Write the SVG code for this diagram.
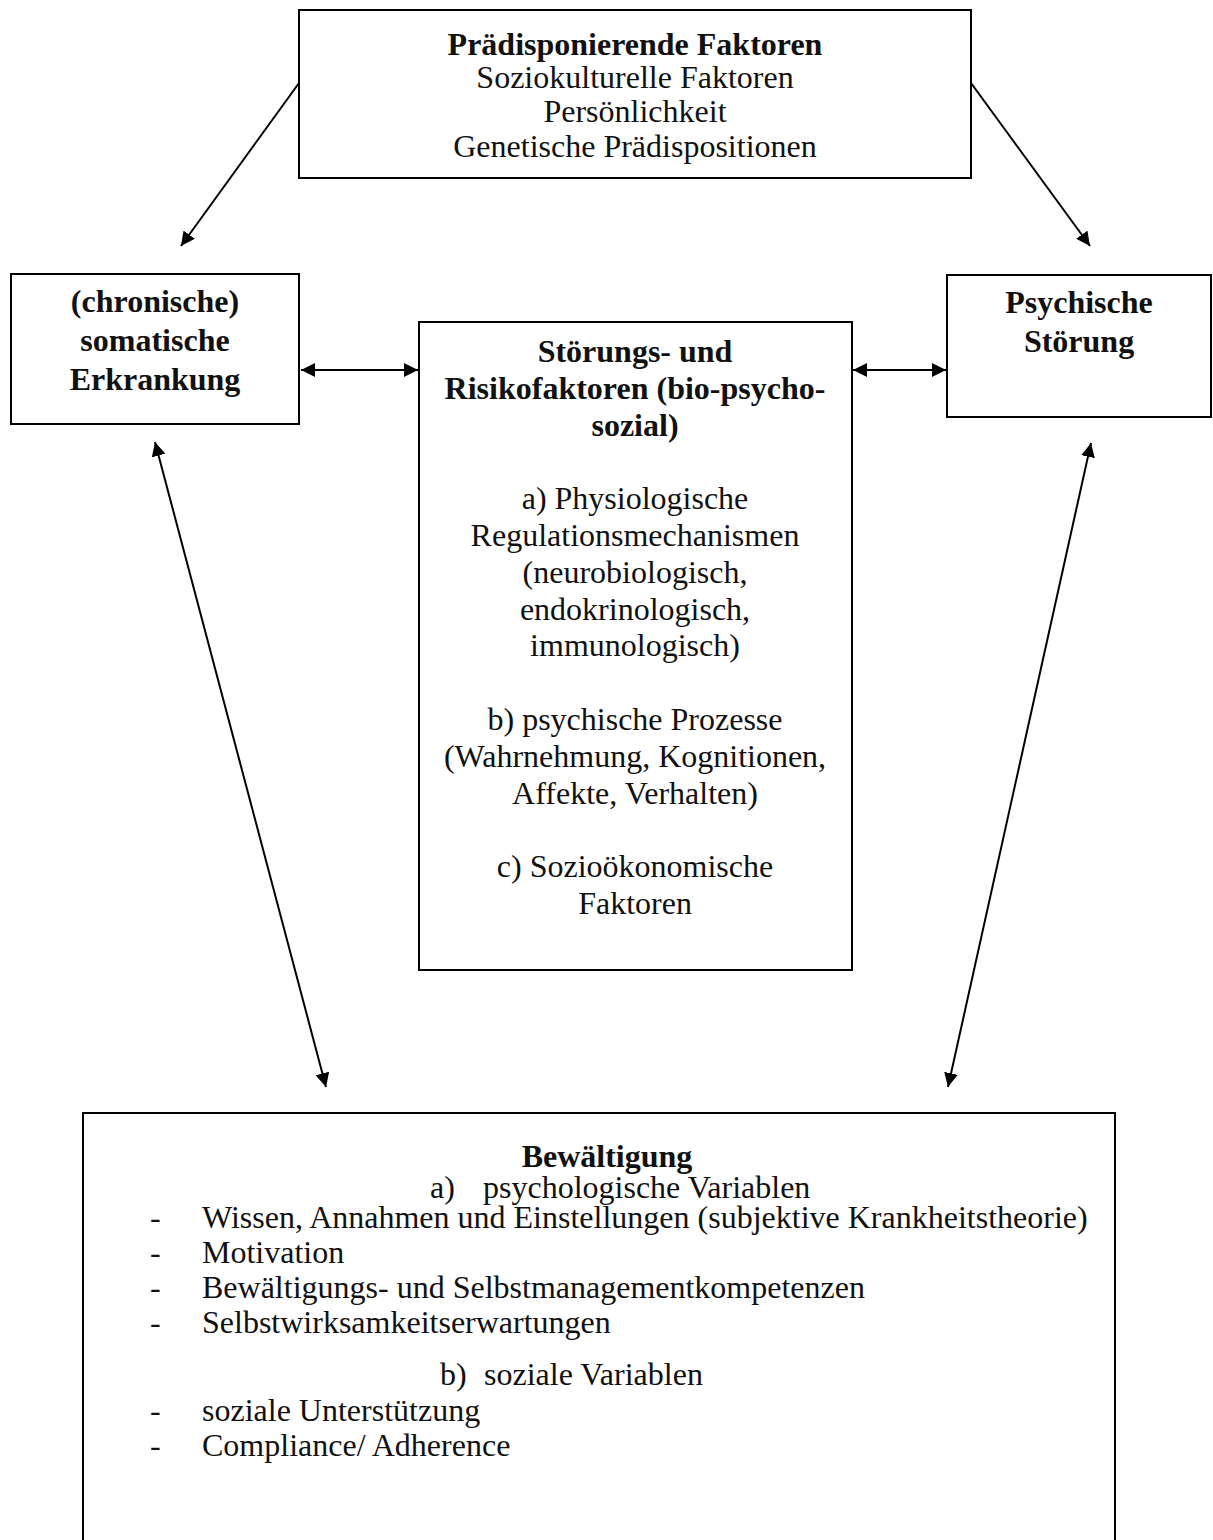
<svg xmlns="http://www.w3.org/2000/svg" width="1213" height="1540" viewBox="0 0 1213 1540">
<style>
.box{fill:#fff;stroke:#000;stroke-width:2}
text{font-family:"Liberation Serif","Times New Roman",serif;font-size:32px;fill:#111}
.b{font-weight:bold}
.c{text-anchor:middle}
.ln{stroke:#000;stroke-width:2;fill:none}
</style>
<defs>
<marker id="ah" viewBox="0 0 10 10" refX="10" refY="5" markerWidth="14" markerHeight="14" orient="auto-start-reverse" markerUnits="userSpaceOnUse">
<path d="M0,0 L10,5 L0,10 z" fill="#000"/>
</marker>
</defs>
<rect width="1213" height="1540" fill="#fff"/>
<g id="connectors">
<line class="ln" x1="299" y1="83" x2="181" y2="246" marker-end="url(#ah)"/>
<line class="ln" x1="971" y1="83" x2="1090" y2="246" marker-end="url(#ah)"/>
<line class="ln" x1="301" y1="370" x2="418" y2="370" marker-start="url(#ah)" marker-end="url(#ah)"/>
<line class="ln" x1="853" y1="370" x2="946" y2="370" marker-start="url(#ah)" marker-end="url(#ah)"/>
<line class="ln" x1="155" y1="442" x2="326" y2="1087" marker-start="url(#ah)" marker-end="url(#ah)"/>
<line class="ln" x1="1091" y1="443" x2="948" y2="1087" marker-start="url(#ah)" marker-end="url(#ah)"/>
</g>
<g id="praedisponierende">
<rect class="box" x="299" y="10" width="672" height="168"/>
<text class="c b" x="635" y="55">Prädisponierende Faktoren</text>
<text class="c" x="635" y="88">Soziokulturelle Faktoren</text>
<text class="c" x="635" y="122">Persönlichkeit</text>
<text class="c" x="635" y="157">Genetische Prädispositionen</text>
</g>
<g id="somatisch">
<rect class="box" x="11" y="274" width="288" height="150"/>
<text class="c b" x="155" y="312">(chronische)</text>
<text class="c b" x="155" y="351">somatische</text>
<text class="c b" x="155" y="390">Erkrankung</text>
</g>
<g id="psychisch">
<rect class="box" x="947" y="275" width="264" height="142"/>
<text class="c b" x="1079" y="313">Psychische</text>
<text class="c b" x="1079" y="352">Störung</text>
</g>
<g id="risikofaktoren">
<rect class="box" x="419" y="322" width="433" height="648"/>
<text class="c b" x="635" y="362">Störungs- und</text>
<text class="c b" x="635" y="399">Risikofaktoren (bio-psycho-</text>
<text class="c b" x="635" y="436">sozial)</text>
<text class="c" x="635" y="509">a) Physiologische</text>
<text class="c" x="635" y="546">Regulationsmechanismen</text>
<text class="c" x="635" y="583">(neurobiologisch,</text>
<text class="c" x="635" y="620">endokrinologisch,</text>
<text class="c" x="635" y="656">immunologisch)</text>
<text class="c" x="635" y="730">b) psychische Prozesse</text>
<text class="c" x="635" y="767">(Wahrnehmung, Kognitionen,</text>
<text class="c" x="635" y="804">Affekte, Verhalten)</text>
<text class="c" x="635" y="877">c) Sozioökonomische</text>
<text class="c" x="635" y="914">Faktoren</text>
</g>
<g id="bewaeltigung">
<rect class="box" x="83" y="1113" width="1032" height="460"/>
<text class="c b" x="607" y="1167">Bewältigung</text>
<text x="430" y="1198">a)</text>
<text x="483" y="1198">psychologische Variablen</text>
<text x="150" y="1228">-</text>
<text x="202" y="1228">Wissen, Annahmen und Einstellungen (subjektive Krankheitstheorie)</text>
<text x="150" y="1263">-</text>
<text x="202" y="1263">Motivation</text>
<text x="150" y="1298">-</text>
<text x="202" y="1298">Bewältigungs- und Selbstmanagementkompetenzen</text>
<text x="150" y="1333">-</text>
<text x="202" y="1333">Selbstwirksamkeitserwartungen</text>
<text x="440" y="1385">b)</text>
<text x="484" y="1385">soziale Variablen</text>
<text x="150" y="1421">-</text>
<text x="202" y="1421">soziale Unterstützung</text>
<text x="150" y="1456">-</text>
<text x="202" y="1456">Compliance/ Adherence</text>
</g>
</svg>
